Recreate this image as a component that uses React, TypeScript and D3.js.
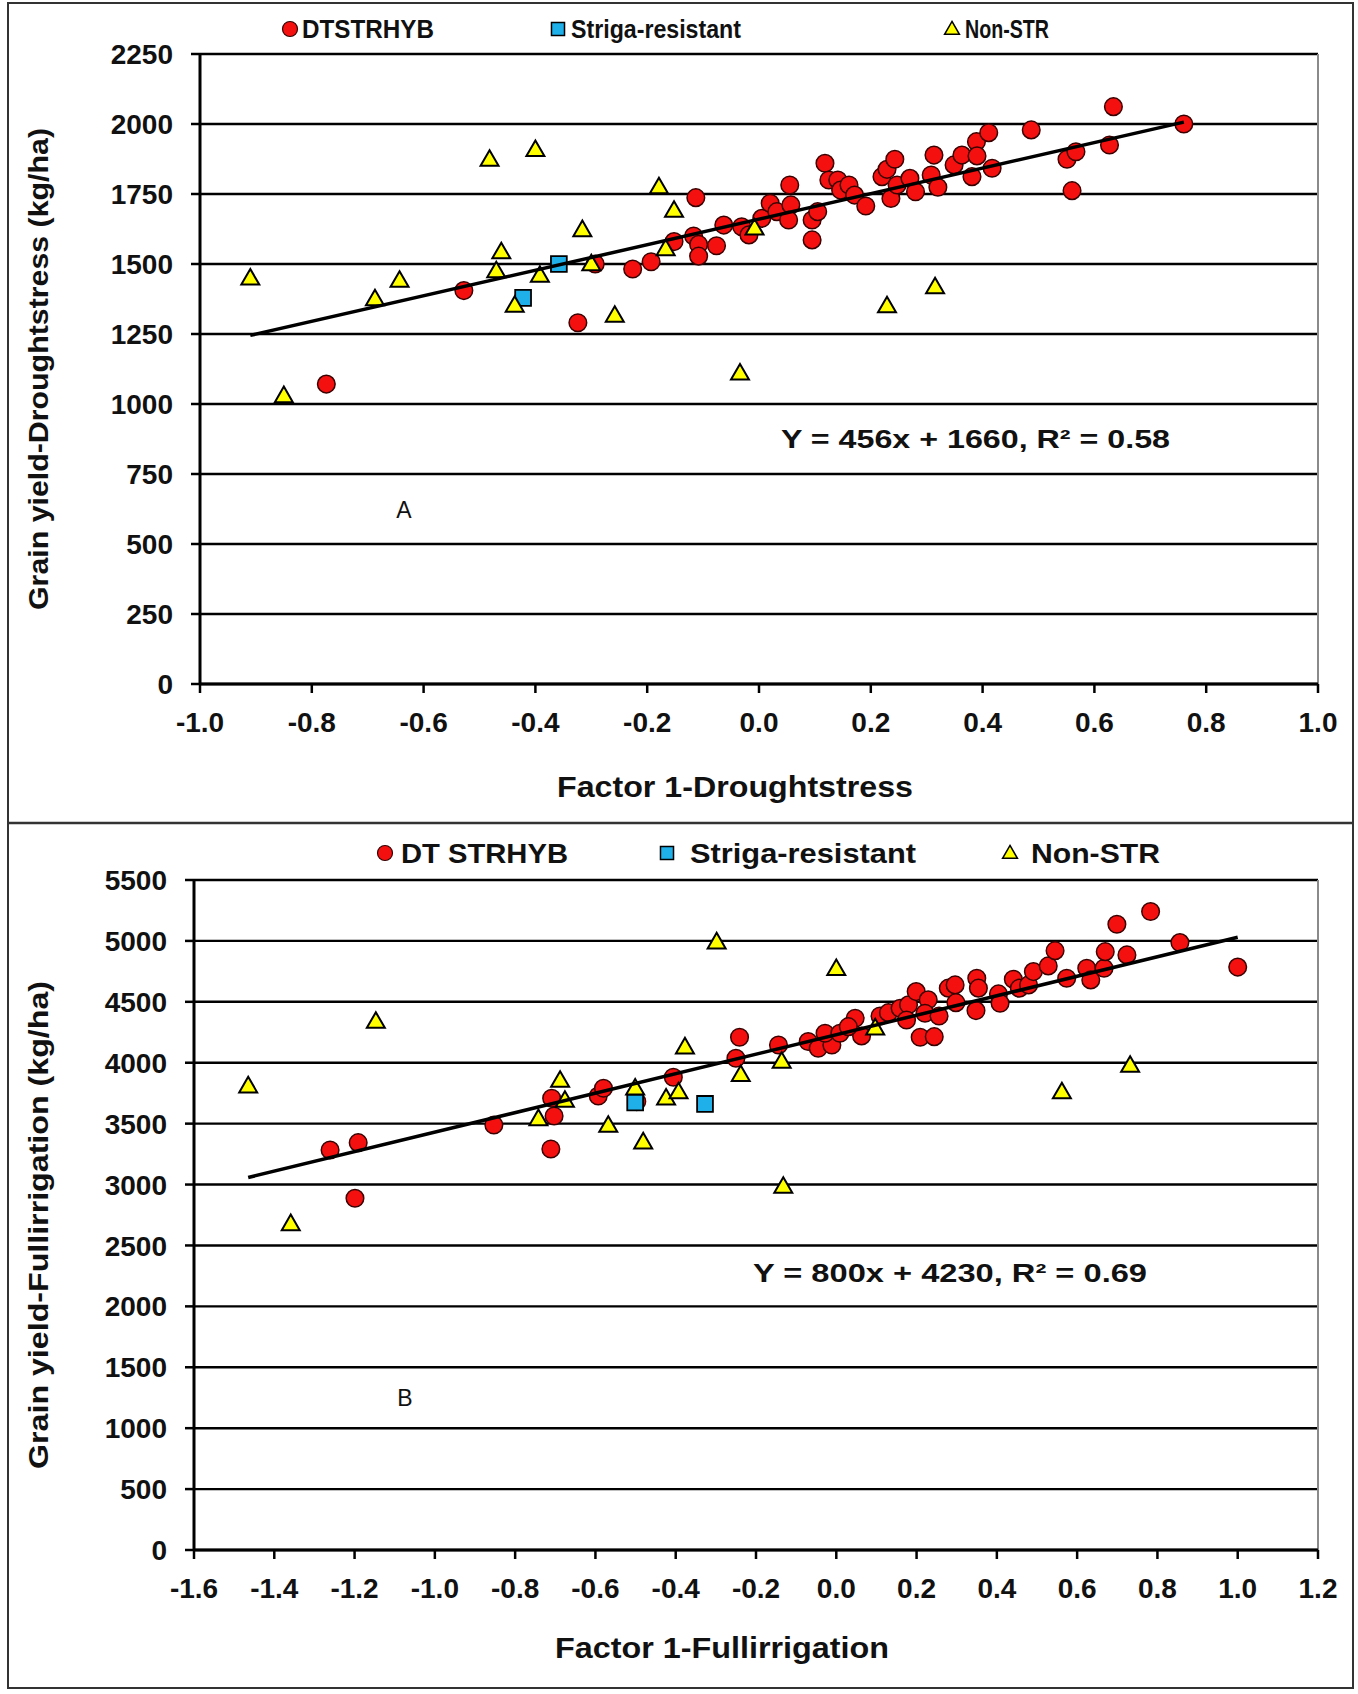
import React from 'react';
import * as d3 from 'd3';

type Pt = [number, number];

// ---- Panel A: drought stress (Factor 1 score, grain yield kg/ha) ----
const droughtHybrids: Pt[] = [
  [-0.774, 1071], [-0.528, 1405], [-0.324, 1290], [-0.293, 1500], [-0.226, 1482],
  [-0.193, 1508], [-0.113, 1737], [-0.152, 1580], [-0.117, 1600], [-0.108, 1570],
  [-0.108, 1528], [-0.076, 1565], [-0.063, 1639], [-0.031, 1633], [-0.018, 1604],
  [0.005, 1663], [0.02, 1717], [0.032, 1687], [0.055, 1782], [0.057, 1711],
  [0.053, 1657], [0.095, 1586], [0.095, 1657], [0.105, 1687], [0.118, 1860],
  [0.125, 1800], [0.141, 1800], [0.146, 1764], [0.161, 1782], [0.171, 1746],
  [0.191, 1707], [0.22, 1812], [0.229, 1838], [0.243, 1874], [0.236, 1734],
  [0.247, 1782], [0.27, 1806], [0.28, 1758], [0.308, 1818], [0.313, 1889],
  [0.32, 1774], [0.349, 1854], [0.363, 1889], [0.381, 1812], [0.389, 1937],
  [0.39, 1886], [0.411, 1969], [0.417, 1842], [0.487, 1979], [0.551, 1874],
  [0.567, 1901], [0.56, 1762], [0.627, 1925], [0.634, 2062], [0.76, 2000],
];
const droughtStriga: Pt[] = [[-0.358, 1500], [-0.422, 1379]];
const droughtNonStr: Pt[] = [
  [-0.91, 1445], [-0.85, 1025], [-0.687, 1371], [-0.643, 1437], [-0.482, 1869],
  [-0.4, 1904], [-0.461, 1539], [-0.47, 1471], [-0.437, 1348], [-0.392, 1455],
  [-0.316, 1618], [-0.3, 1496], [-0.258, 1312], [-0.179, 1771], [-0.152, 1687],
  [-0.167, 1550], [-0.008, 1624], [-0.034, 1106], [0.229, 1346], [0.315, 1414],
];
const droughtXTicks = d3.range(-10, 11, 2).map((v) => v / 10);
const droughtYTicks = d3.range(0, 2251, 250);

// ---- Panel B: full irrigation ----
const irrigHybrids: Pt[] = [
  [-1.261, 3284], [-1.191, 3344], [-1.199, 2888], [-0.853, 3489], [-0.709, 3708],
  [-0.703, 3563], [-0.711, 3292], [-0.593, 3727], [-0.58, 3790], [-0.497, 3681],
  [-0.406, 3881], [-0.241, 4209], [-0.25, 4037], [-0.144, 4146], [-0.07, 4174],
  [-0.045, 4119], [-0.011, 4146], [-0.028, 4242], [0.009, 4242], [0.047, 4365],
  [0.063, 4220], [0.03, 4296], [0.109, 4384], [0.13, 4411], [0.159, 4447],
  [0.18, 4475], [0.199, 4584], [0.175, 4351], [0.229, 4516], [0.221, 4406],
  [0.209, 4209], [0.244, 4214], [0.256, 4384], [0.279, 4612], [0.296, 4639],
  [0.298, 4493], [0.35, 4694], [0.354, 4612], [0.348, 4428], [0.404, 4565],
  [0.408, 4488], [0.441, 4685], [0.456, 4612], [0.479, 4639], [0.491, 4748],
  [0.528, 4795], [0.545, 4920], [0.574, 4694], [0.624, 4776], [0.634, 4680],
  [0.667, 4776], [0.67, 4912], [0.699, 5137], [0.724, 4885], [0.783, 5241],
  [0.856, 4986], [1.0, 4785],
];
const irrigStriga: Pt[] = [[-0.501, 3673], [-0.327, 3662]];
const irrigNonStr: Pt[] = [
  [-1.465, 3799], [-1.359, 2668], [-1.147, 4329], [-0.742, 3530], [-0.688, 3845],
  [-0.676, 3681], [-0.568, 3475], [-0.501, 3782], [-0.481, 3339], [-0.424, 3700],
  [-0.393, 3750], [-0.377, 4119], [-0.298, 4981], [-0.238, 3892], [-0.136, 4001],
  [-0.132, 2975], [0.0, 4762], [0.097, 4275], [0.562, 3750], [0.732, 3968],
];
const irrigXTicks = d3.range(-16, 13, 2).map((v) => v / 10);
const irrigYTicks = d3.range(0, 5501, 500);

const FONT = '"Liberation Sans", Arial, Helvetica, sans-serif';
const RED = '#f51010';
const BLUE = '#1fb0ea';
const YELLOW = '#ffff00';

const triPath = d3.symbol(d3.symbolTriangle, 140)() || '';
const sqPath = d3.symbol(d3.symbolSquare, 250)() || '';
const legTri = d3.symbol(d3.symbolTriangle, 95)() || '';
const legSq = d3.symbol(d3.symbolSquare, 170)() || '';

interface LegendItem { mark: number; text: number; len?: number; }

interface PanelProps {
  box: { left: number; right: number; top: number; bottom: number };
  xDomain: [number, number];
  yDomain: [number, number];
  xTicks: number[];
  yTicks: number[];
  hybrids: Pt[];
  striga: Pt[];
  nonStr: Pt[];
  slope: number;
  intercept: number;
  legendY: number;
  legendFont: number;
  legendNames: string[];
  legend: LegendItem[];
  xTitle: string;
  xTitlePos: { x: number; y: number; len: number };
  yTitle: string;
  yTitlePos: { x: number; y: number; len: number };
  eq: string;
  eqPos: { x: number; y: number; len: number };
  letter: string;
  letterPos: { x: number; y: number };
}

function Panel(p: PanelProps) {
  const { box } = p;
  const x = d3.scaleLinear().domain(p.xDomain).range([box.left, box.right]);
  const y = d3.scaleLinear().domain(p.yDomain).range([box.bottom, box.top]);
  const all = [...p.hybrids, ...p.striga, ...p.nonStr];
  const [fx0, fx1] = d3.extent(all, (d) => d[0]) as [number, number];
  const fit = d3
    .line<number>()
    .x((v) => x(v))
    .y((v) => y(p.slope * v + p.intercept));

  return (
    <g fontFamily={FONT}>
      {/* legend */}
      <g fontSize={p.legendFont} fontWeight="bold" fill="#111">
        <circle cx={p.legend[0].mark} cy={p.legendY} r={7.5} fill={RED} stroke="#300" strokeWidth={1.2} />
        <path d={legSq} transform={`translate(${p.legend[1].mark},${p.legendY})`} fill={BLUE} stroke="#000" strokeWidth={1.5} />
        <path d={legTri} transform={`translate(${p.legend[2].mark},${p.legendY + 1})`} fill={YELLOW} stroke="#000" strokeWidth={1.5} />
        {p.legend.map((it, i) => (
          <text
            key={i}
            x={it.text}
            y={p.legendY}
            dy="0.36em"
            textLength={it.len}
            lengthAdjust={it.len ? 'spacingAndGlyphs' : undefined}
          >
            {p.legendNames[i]}
          </text>
        ))}
      </g>

      {/* gridlines */}
      {p.yTicks.map((t) => (
        <line key={t} x1={box.left} x2={box.right} y1={y(t)} y2={y(t)} stroke="#000" strokeWidth={2.4} />
      ))}
      <line x1={box.right} x2={box.right} y1={box.top} y2={box.bottom} stroke="#8a8a8a" strokeWidth={2} />

      {/* axes */}
      <line x1={box.left} x2={box.left} y1={box.top} y2={box.bottom} stroke="#000" strokeWidth={3} />
      <line x1={box.left} x2={box.right} y1={box.bottom} y2={box.bottom} stroke="#000" strokeWidth={3} />
      {p.yTicks.map((t) => (
        <g key={t}>
          <line x1={box.left - 9} x2={box.left} y1={y(t)} y2={y(t)} stroke="#000" strokeWidth={2.5} />
          <text x={box.left - 27} y={y(t)} dy="0.36em" textAnchor="end" fontSize={28} fontWeight="bold" fill="#111">
            {t}
          </text>
        </g>
      ))}
      {p.xTicks.map((t) => (
        <g key={t}>
          <line x1={x(t)} x2={x(t)} y1={box.bottom} y2={box.bottom + 9} stroke="#000" strokeWidth={2.5} />
          <text x={x(t)} y={box.bottom + 48} textAnchor="middle" fontSize={28} fontWeight="bold" fill="#111">
            {t.toFixed(1)}
          </text>
        </g>
      ))}

      {/* points */}
      {p.hybrids.map((d, i) => (
        <circle key={`h${i}`} cx={x(d[0])} cy={y(d[1])} r={8.8} fill={RED} stroke="#3a0000" strokeWidth={1.5} />
      ))}
      {p.striga.map((d, i) => (
        <path key={`s${i}`} d={sqPath} transform={`translate(${x(d[0])},${y(d[1])})`} fill={BLUE} stroke="#000" strokeWidth={1.8} />
      ))}
      {p.nonStr.map((d, i) => (
        <path key={`n${i}`} d={triPath} transform={`translate(${x(d[0])},${y(d[1])})`} fill={YELLOW} stroke="#000" strokeWidth={2} />
      ))}

      {/* linear fit */}
      <path d={fit([fx0, fx1]) || ''} fill="none" stroke="#000" strokeWidth={3.5} />

      {/* annotations */}
      <text x={p.eqPos.x} y={p.eqPos.y} fontSize={26} fontWeight="bold" fill="#111" textLength={p.eqPos.len} lengthAdjust="spacingAndGlyphs">
        {p.eq}
      </text>
      <text x={p.letterPos.x} y={p.letterPos.y} fontSize={23} textAnchor="middle" fill="#111">
        {p.letter}
      </text>

      {/* titles */}
      <text x={p.xTitlePos.x} y={p.xTitlePos.y} textAnchor="middle" fontSize={30} fontWeight="bold" fill="#111" textLength={p.xTitlePos.len} lengthAdjust="spacingAndGlyphs">
        {p.xTitle}
      </text>
      <text
        transform={`translate(${p.yTitlePos.x},${p.yTitlePos.y}) rotate(-90)`}
        dy="0.36em"
        textAnchor="middle"
        fontSize={28}
        fontWeight="bold"
        fill="#111"
        textLength={p.yTitlePos.len}
        lengthAdjust="spacingAndGlyphs"
      >
        {p.yTitle}
      </text>
    </g>
  );
}

export default function App() {
  const W = 1358;
  const H = 1694;
  return (
    <div style={{ position: 'absolute', left: 0, top: 0, background: '#fff' }}>
      <svg width={W} height={H} viewBox={`0 0 ${W} ${H}`} style={{ display: 'block' }}>
        <rect x={0} y={0} width={W} height={H} fill="#fff" />
        <rect x={8} y={3} width={1345} height={1685} fill="none" stroke="#333" strokeWidth={2} />
        <line x1={8} x2={1353} y1={823} y2={823} stroke="#333" strokeWidth={2.5} />

        <Panel
          box={{ left: 200, right: 1318, top: 54, bottom: 684 }}
          xDomain={[-1, 1]}
          yDomain={[0, 2250]}
          xTicks={droughtXTicks}
          yTicks={droughtYTicks}
          hybrids={droughtHybrids}
          striga={droughtStriga}
          nonStr={droughtNonStr}
          slope={456}
          intercept={1660}
          legendY={29}
          legendFont={26}
          legendNames={['DTSTRHYB', 'Striga-resistant', 'Non-STR']}
          legend={[
            { mark: 290, text: 302, len: 132 },
            { mark: 558, text: 571, len: 170 },
            { mark: 952, text: 965, len: 84 },
          ]}
          xTitle="Factor 1-Droughtstress"
          xTitlePos={{ x: 735, y: 797, len: 356 }}
          yTitle="Grain yield-Droughtstress (kg/ha)"
          yTitlePos={{ x: 38, y: 369, len: 482 }}
          eq="Y = 456x + 1660, R² = 0.58"
          eqPos={{ x: 781, y: 448, len: 389 }}
          letter="A"
          letterPos={{ x: 404, y: 518 }}
        />

        <Panel
          box={{ left: 194, right: 1318, top: 880, bottom: 1550 }}
          xDomain={[-1.6, 1.2]}
          yDomain={[0, 5500]}
          xTicks={irrigXTicks}
          yTicks={irrigYTicks}
          hybrids={irrigHybrids}
          striga={irrigStriga}
          nonStr={irrigNonStr}
          slope={800}
          intercept={4230}
          legendY={853}
          legendFont={28}
          legendNames={['DT STRHYB', 'Striga-resistant', 'Non-STR']}
          legend={[
            { mark: 385, text: 401, len: 167 },
            { mark: 667, text: 690, len: 226 },
            { mark: 1010, text: 1031, len: 129 },
          ]}
          xTitle="Factor 1-Fullirrigation"
          xTitlePos={{ x: 722, y: 1658, len: 334 }}
          yTitle="Grain yield-Fullirrigation (kg/ha)"
          yTitlePos={{ x: 38, y: 1225, len: 488 }}
          eq="Y = 800x + 4230, R² = 0.69"
          eqPos={{ x: 753, y: 1282, len: 394 }}
          letter="B"
          letterPos={{ x: 405, y: 1406 }}
        />
      </svg>
    </div>
  );
}
